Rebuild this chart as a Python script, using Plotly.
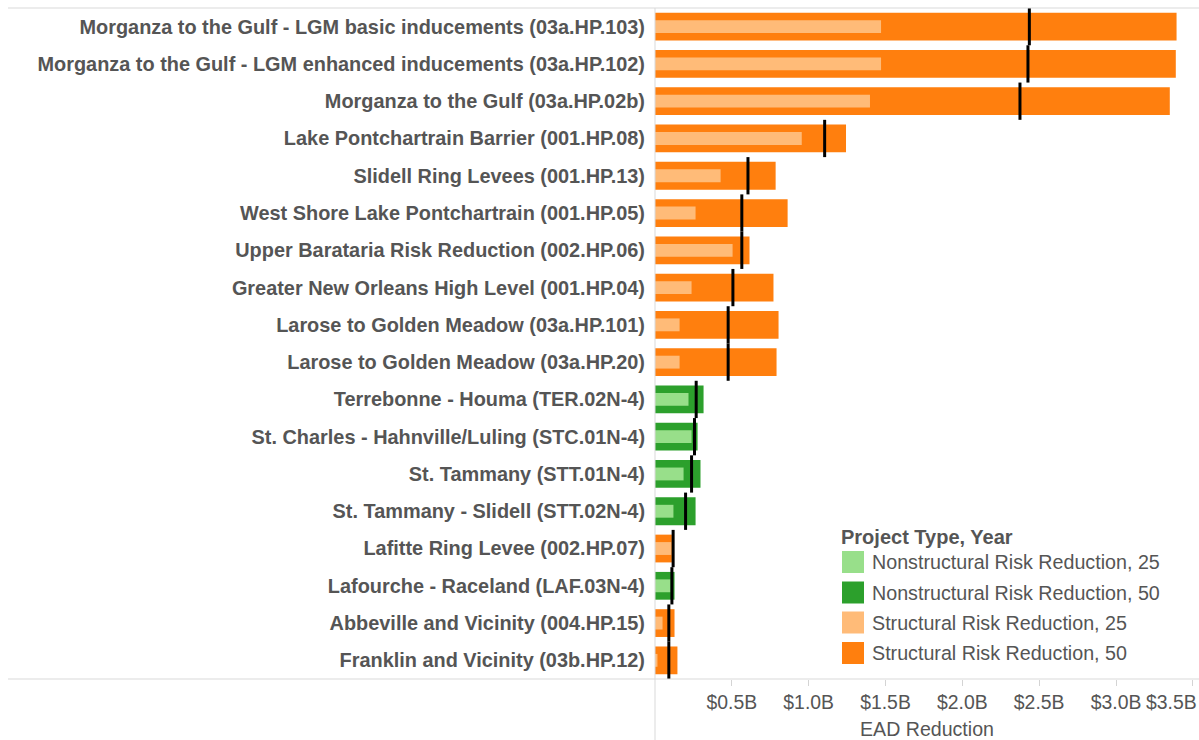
import plotly.graph_objects as go

projects = [
    "Morganza to the Gulf - LGM basic inducements (03a.HP.103)",
    "Morganza to the Gulf - LGM enhanced inducements (03a.HP.102)",
    "Morganza to the Gulf (03a.HP.02b)",
    "Lake Pontchartrain Barrier (001.HP.08)",
    "Slidell Ring Levees (001.HP.13)",
    "West Shore Lake Pontchartrain (001.HP.05)",
    "Upper Barataria Risk Reduction (002.HP.06)",
    "Greater New Orleans High Level (001.HP.04)",
    "Larose to Golden Meadow (03a.HP.101)",
    "Larose to Golden Meadow (03a.HP.20)",
    "Terrebonne - Houma (TER.02N-4)",
    "St. Charles - Hahnville/Luling (STC.01N-4)",
    "St. Tammany (STT.01N-4)",
    "St. Tammany - Slidell (STT.02N-4)",
    "Lafitte Ring Levee (002.HP.07)",
    "Lafourche - Raceland (LAF.03N-4)",
    "Abbeville and Vicinity (004.HP.15)",
    "Franklin and Vicinity (03b.HP.12)",
]
project_type = ["S", "S", "S", "S", "S", "S", "S", "S", "S", "S",
                "N", "N", "N", "N", "S", "N", "S", "S"]
# EAD reduction, $ billions
year50 = [3.394, 3.389, 3.350, 1.243, 0.785, 0.863, 0.615, 0.771, 0.804, 0.791,
          0.316, 0.277, 0.296, 0.264, 0.110, 0.127, 0.127, 0.146]
year25 = [1.471, 1.471, 1.399, 0.955, 0.427, 0.264, 0.505, 0.238, 0.160, 0.160,
          0.218, 0.238, 0.186, 0.120, 0.107, 0.101, 0.049, 0.016]
reference = [2.436, 2.427, 2.375, 1.104, 0.605, 0.565, 0.565, 0.507, 0.476, 0.476,
             0.268, 0.257, 0.238, 0.199, 0.118, 0.110, 0.090, 0.090]
tick_values = [0.5, 1.0, 1.5, 2.0, 2.5, 3.0, 3.5]
tick_labels = ["$0.5B", "$1.0B", "$1.5B", "$2.0B", "$2.5B", "$3.0B", "$3.5B"]
axis_title = "EAD Reduction"
legend_title = "Project Type, Year"
legend_keys = [("N", 25), ("N", 50), ("S", 25), ("S", 50)]

colors = {
    ("N", 25): "#98df8a", ("N", 50): "#2ca02c",
    ("S", 25): "#ffbb78", ("S", 50): "#ff7f0e",
}
names = {
    ("N", 25): "Nonstructural Risk Reduction, 25",
    ("N", 50): "Nonstructural Risk Reduction, 50",
    ("S", 25): "Structural Risk Reduction, 25",
    ("S", 50): "Structural Risk Reduction, 50",
}

W, H = 1199, 740
ML, MR, MT, MB = 655, 0, 8, 61
PW, PH = W - ML - MR, H - MT - MB
X_MAX = 3.54


def px(xp):
    return (xp - ML) / PW


def py(yp):
    return (H - MB - yp) / PH


n = len(projects)
ypos = list(range(n))
FONT = "Liberation Sans, Arial, sans-serif"
GREY = "#555555"

fig = go.Figure()
# wide 50-year bars first, then narrow 25-year bars on top
for t, yr in [("N", 50), ("S", 50), ("N", 25), ("S", 25)]:
    vals = year25 if yr == 25 else year50
    xs, ys = [], []
    for i in range(n):
        if project_type[i] == t:
            xs.append(vals[i]); ys.append(ypos[i])
    fig.add_trace(go.Bar(
        x=xs, y=ys, orientation="h", name=names[(t, yr)],
        marker=dict(color=colors[(t, yr)], line=dict(width=0)),
        width=0.745 if yr == 50 else 0.345,
        showlegend=False,
    ))

lx, ly = [], []
for i in range(n):
    lx += [reference[i], reference[i], None]
    ly += [ypos[i] - 0.5, ypos[i] + 0.5, None]
fig.add_trace(go.Scatter(x=lx, y=ly, mode="lines", line=dict(color="black", width=3),
                         showlegend=False, hoverinfo="skip"))

shapes = [
    dict(type="line", xref="paper", yref="paper", x0=px(8), x1=1, y0=1, y1=1,
         line=dict(color="#d9d9d9", width=1)),
    dict(type="line", xref="paper", yref="paper", x0=px(8), x1=1, y0=0, y1=0,
         line=dict(color="#d9d9d9", width=1)),
    dict(type="line", xref="paper", yref="paper", x0=0, x1=0, y0=py(740), y1=1,
         line=dict(color="#d9d9d9", width=1)),
]
annotations = [
    dict(text="<b>" + legend_title + "</b>", xref="paper", yref="paper",
         x=px(839), y=py(537), xanchor="left", yanchor="middle", showarrow=False,
         font=dict(size=20, color=GREY, family=FONT)),
    dict(text=axis_title, xref="paper", yref="paper",
         x=0.5, y=py(729), xanchor="center", yanchor="middle", showarrow=False,
         font=dict(size=19.6, color=GREY, family=FONT)),
    # last tick label is nudged left to stay inside the view
    dict(text=tick_labels[-1], xref="x", yref="paper",
         x=tick_values[-1], xshift=-21, y=py(702), xanchor="center", yanchor="middle",
         showarrow=False, font=dict(size=19.4, color=GREY, family=FONT)),
]
row_y = [562, 592.5, 622.5, 653]
for k, key in enumerate(legend_keys):
    cy = row_y[k]
    shapes.append(dict(type="rect", xref="paper", yref="paper",
                       x0=px(842), x1=px(864), y0=py(cy - 11), y1=py(cy + 11),
                       fillcolor=colors[key], line=dict(width=0)))
    annotations.append(dict(text=names[key], xref="paper", yref="paper",
                            x=px(870), y=py(cy), xanchor="left", yanchor="middle",
                            showarrow=False, font=dict(size=19.7, color=GREY, family=FONT)))

fig.update_layout(
    width=W, height=H,
    margin=dict(l=ML, r=MR, t=MT, b=MB, autoexpand=False),
    barmode="overlay",
    plot_bgcolor="white", paper_bgcolor="white",
    font=dict(family=FONT, color=GREY),
    showlegend=False,
    xaxis=dict(
        range=[0, X_MAX], tickvals=tick_values,
        ticktext=tick_labels[:-1] + [""],
        ticks="outside", ticklen=6, tickcolor="#d4d4d4",
        tickfont=dict(size=19.4, color=GREY, family=FONT),
        showgrid=False, zeroline=False, showline=False,
        automargin=False,
    ),
    yaxis=dict(
        range=[n - 0.5, -0.5], tickvals=ypos, ticktext=projects,
        tickfont=dict(size=19.9, color=GREY, family=FONT, weight="bold"),
        ticks="", ticklabelstandoff=9,
        showgrid=False, zeroline=False, showline=False,
        automargin=False,
    ),
    shapes=shapes,
    annotations=annotations,
)

fig.write_html("out.html", config={"displayModeBar": False},
               post_script="document.body.style.margin='0';")
